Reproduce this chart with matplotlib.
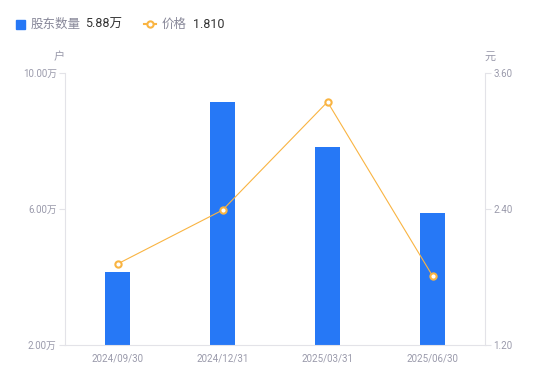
import matplotlib
matplotlib.use('Agg')
from matplotlib import pyplot as plt
from matplotlib.lines import Line2D
import numpy as np

plt.rcParams['font.family'] = ['Roboto', 'Noto Sans CJK SC', 'DejaVu Sans']

# data
dates = ['2024/09/30', '2024/12/31', '2025/03/31', '2025/06/30']
holders = [4.15, 9.15, 7.82, 5.88]   # 万户
price = [1.915, 2.39, 3.345, 1.81]   # 元

blue = '#2678F6'
orange = '#F9B442'
grey = '#9A9AAB'
axcol = '#E3E3E8'

fig = plt.figure(figsize=(5.5, 3.81), dpi=100)
ax = fig.add_axes([65/550, 1-345/381, 420/550, 272/381])
ax2 = ax.twinx()

x = np.arange(len(dates))
ax.bar(x, holders, width=0.24, color=blue, zorder=2)
ax2.plot(x, price, color=orange, lw=0.8, marker='o', ms=4.5,
         mfc='white', mec=orange, mew=1.5, zorder=3)

ax.set_xlim(-0.5, 3.5)
ax.set_ylim(2, 10)
ax2.set_ylim(1.2, 3.6)
ax.set_yticks([2, 6, 10])
ax.set_yticklabels(['2.00万', '6.00万', '10.00万'])
ax2.set_yticks([1.2, 2.4, 3.6])
ax2.set_yticklabels(['1.20', '2.40', '3.60'])
ax.set_xticks(x)
ax.set_xticklabels(dates)

for a in (ax, ax2):
    for s in a.spines.values():
        s.set_visible(False)
    a.tick_params(colors=grey, labelsize=7, length=4, width=0.8, pad=2)
    a.tick_params(axis='y', colors=axcol, labelcolor=grey)
ax.tick_params(axis='x', length=0, pad=6)
ax.spines['left'].set_visible(True)
ax.spines['left'].set_color(axcol)
ax.spines['bottom'].set_visible(True)
ax.spines['bottom'].set_color(axcol)
ax2.spines['right'].set_visible(True)
ax2.spines['right'].set_color(axcol)

# units
cjk = ['Noto Sans CJK SC', 'DejaVu Sans']
fig.text(59/550, 1-57/381, '户', color=grey, fontsize=8, ha='center', va='center', family=cjk)
fig.text(490/550, 1-57/381, '元', color=grey, fontsize=8, ha='center', va='center', family=cjk)

# legend row
ly = 1 - 24/381
fig.patches.append(plt.Rectangle((16/550, ly - 4.5/381), 9/550, 9/381,
                                 transform=fig.transFigure, color=blue))
fig.text(31/550, ly, '股东数量', color='#888899', fontsize=9, va='center', family=cjk)
fig.text(85/550, ly, '5.88万', color='#333333', fontsize=9, va='center')
fig.lines.append(Line2D([144/550, 156/550], [ly, ly], transform=fig.transFigure,
                        color=orange, lw=1.5))
fig.lines.append(Line2D([150/550], [ly], transform=fig.transFigure,
                        color=orange, marker='o', ms=4.5, mfc='white', mew=1.5))
fig.text(162/550, ly, '价格', color='#888899', fontsize=9, va='center', family=cjk)
fig.text(193/550, ly, '1.810', color='#333333', fontsize=9, va='center')

fig.savefig('out.png', dpi=100)
